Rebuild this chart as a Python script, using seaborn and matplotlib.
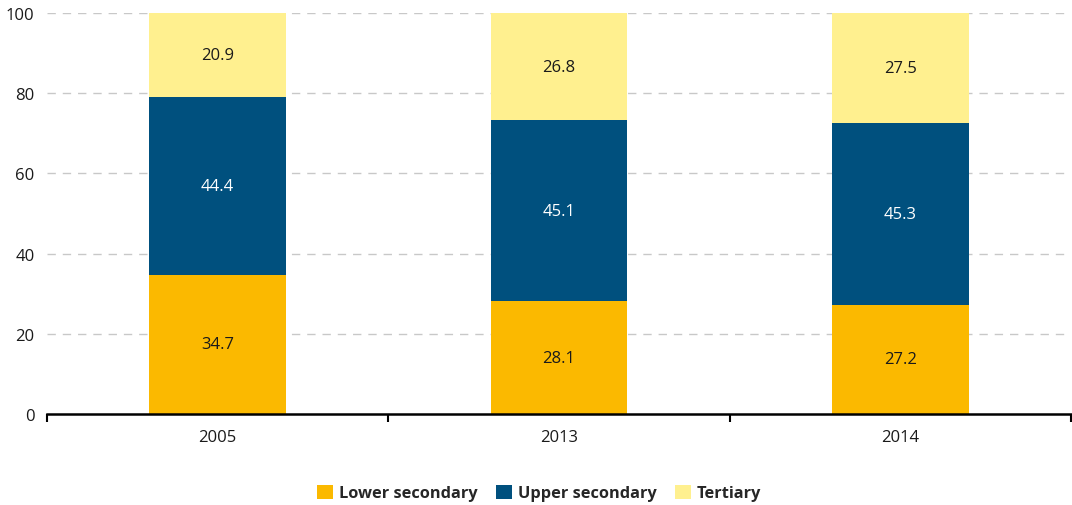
import matplotlib
matplotlib.use("Agg")
import matplotlib.pyplot as plt
import seaborn as sns
import pandas as pd
import numpy as np
from matplotlib.patches import Patch
from matplotlib.ticker import FixedLocator

years = ["2005", "2013", "2014"]
lower_secondary = [34.7, 28.1, 27.2]
upper_secondary = [44.4, 45.1, 45.3]
tertiary = [20.9, 26.8, 27.5]
series_names = ["Lower secondary", "Upper secondary", "Tertiary"]
colors = ["#FBB900", "#00507E", "#FFF08F"]
label_colors = ["#1a1a1a", "white", "#1a1a1a"]
y_ticks = [0, 20, 40, 60, 80, 100]

sns.set_theme(style="white")
plt.rcParams["font.family"] = ["Open Sans", "DejaVu Sans"]

df = pd.DataFrame({
    "year": years,
    "lower": lower_secondary,
    "upper": upper_secondary,
    "tertiary": tertiary,
})
df["cum_lower"] = df["lower"]
df["cum_upper"] = df["lower"] + df["upper"]
df["cum_tertiary"] = df["cum_upper"] + df["tertiary"]

fig = plt.figure(figsize=(10.72, 5.06), dpi=100)
ax = fig.add_axes([47 / 1072, 1 - 415 / 506, 1024 / 1072, 401 / 506])

# Stack by overlaying cumulative totals, tallest first
for col, color in zip(["cum_tertiary", "cum_upper", "cum_lower"], colors[::-1]):
    sns.barplot(data=df, x="year", y=col, color=color, width=0.4,
                saturation=1, ax=ax, zorder=3, linewidth=0)

# Segment value labels
bottoms = np.zeros(len(years))
for vals, lc in zip([lower_secondary, upper_secondary, tertiary], label_colors):
    for i, v in enumerate(vals):
        ax.text(i, bottoms[i] + v / 2, f"{v:.1f}", ha="center", va="center",
                fontsize=12, color=lc, zorder=4)
    bottoms += np.array(vals)

ax.set_xlim(-0.5, 2.5)
ax.set_ylim(0, 100)
ax.set_yticks(y_ticks)
ax.set_yticklabels([str(t) for t in y_ticks], fontsize=12, color="#1a1a1a")
ax.set_xlabel("")
ax.set_ylabel("")
ax.tick_params(axis="y", length=0, pad=9)
ax.tick_params(axis="x", which="major", length=0, pad=11, labelsize=12, labelcolor="#1a1a1a")
ax.xaxis.set_minor_locator(FixedLocator([-0.5, 0.5, 1.5, 2.5]))
ax.tick_params(axis="x", which="minor", bottom=True, length=6, width=1.5,
               color="black", direction="out")

for y in y_ticks[1:]:
    ax.axhline(y, color="#c8c8c8", linestyle=(0, (6, 5)), linewidth=1, zorder=1)

for s in ["top", "right", "left"]:
    ax.spines[s].set_visible(False)
ax.spines["bottom"].set_color("black")
ax.spines["bottom"].set_linewidth(1.8)
ax.spines["bottom"].set_zorder(5)
ax.grid(False)

handles = [Patch(facecolor=c, edgecolor="none", label=n) for c, n in zip(colors, series_names)]
leg = fig.legend(handles=handles, loc="center", bbox_to_anchor=(539 / 1072, 12 / 506),
                 ncol=3, frameon=False, handlelength=1.0, handleheight=1.0,
                 handletextpad=0.35, columnspacing=1.1,
                 prop={"weight": "bold", "size": 11.8})

fig.savefig("out.png", dpi=100)
